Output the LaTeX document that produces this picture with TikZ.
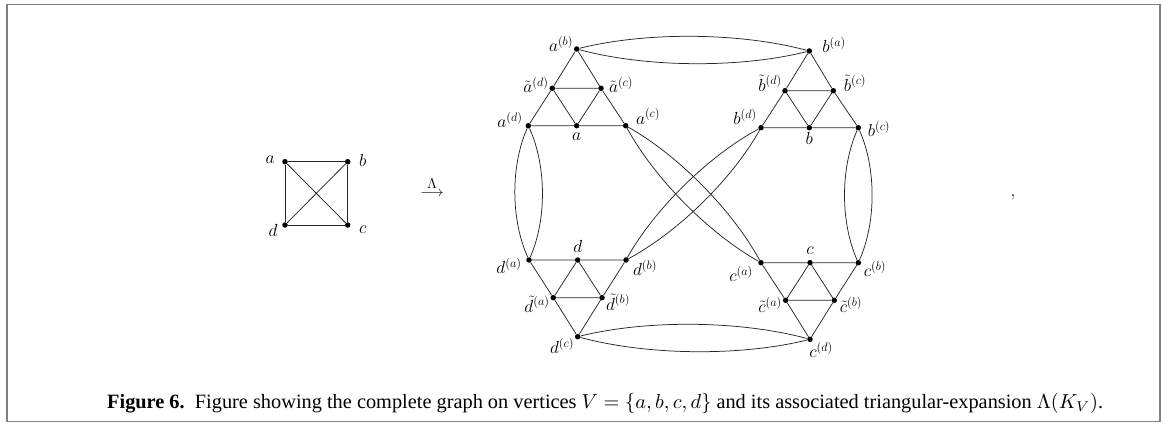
\RequirePackage{fix-cm}
\documentclass[tikz,border=0pt]{standalone}
\usepackage{fontspec}
\usepackage{amsmath}
\setmainfont{Liberation Serif}
\usetikzlibrary{calc}
\tikzset{
  vtx/.style={circle,fill=black,inner sep=0pt,minimum size=5.5pt},
  lbl/.style={inner sep=0pt,font=\fontsize{17.5}{20}\selectfont},
  edge/.style={line width=0.75pt,black!85},
  frame/.style={draw=black!50,line width=1.8pt}
}
\newcommand{\lensdraw}[3][18pt]{%
  \draw[edge] (#2) .. controls ($(#2)!0.3!(#3)!#1!90:(#3)$) and ($(#3)!0.3!(#2)!#1!-90:(#2)$) .. (#3);
  \draw[edge] (#2) .. controls ($(#2)!0.3!(#3)!#1!-90:(#3)$) and ($(#3)!0.3!(#2)!#1!90:(#2)$) .. (#3);
}
\begin{document}
\begin{tikzpicture}[x=1pt,y=-1pt]
\useasboundingbox (0,0) rectangle (1165,425);
\draw[frame] (7,4.5) rectangle (1160,421.5);

% small K4
\node[vtx] (sa) at (285,161.7) {};
\node[vtx] (sb) at (347.7,161.7) {};
\node[vtx] (sc) at (347.7,225) {};
\node[vtx] (sd) at (285,225) {};
\draw[edge] (sa)--(sb)--(sc)--(sd)--(sa);
\draw[edge] (sa)--(sc) (sb)--(sd);
\node[lbl] (lsa) at (270,160) {$a$};
\node[lbl] (lsb) at (362.7,160) {$b$};
\node[lbl] (lsc) at (362.7,230) {$c$};
\node[lbl] (lsd) at (273,230) {$d$};

% arrow
\node[inner sep=0pt,anchor=base,font=\fontsize{14.5}{17}\selectfont] (arr) at (432,196.5) {$\overset{\textstyle\Lambda}{\longrightarrow}$};
\node[lbl,anchor=base] (comma) at (1013,196.5) {$,$};

% a triangle
\node[vtx] (ab) at (576.7,49) {};
\node[vtx] (tad) at (552.3,88.3) {};
\node[vtx] (tac) at (601,88.3) {};
\node[vtx] (ad) at (528.3,125.7) {};
\node[vtx] (a) at (576.7,125.7) {};
\node[vtx] (ac) at (625.7,125.7) {};
\draw[edge] (ab)--(tad)--(ad)--(a)--(ac)--(tac)--(ab);
\draw[edge] (tad)--(tac) (tad)--(a)--(tac);

% b triangle
\node[vtx] (ba) at (809.3,51) {};
\node[vtx] (tbd) at (785,90.7) {};
\node[vtx] (tbc) at (833.3,90.7) {};
\node[vtx] (bd) at (761,127.7) {};
\node[vtx] (b) at (809.3,127.7) {};
\node[vtx] (bc) at (858.3,127.7) {};
\draw[edge] (ba)--(tbd)--(bd)--(b)--(bc)--(tbc)--(ba);
\draw[edge] (tbd)--(tbc) (tbd)--(b)--(tbc);

% d triangle
\node[vtx] (da) at (529,260) {};
\node[vtx] (d) at (577.7,260) {};
\node[vtx] (db) at (626,260) {};
\node[vtx] (tda) at (553.3,297.7) {};
\node[vtx] (tdb) at (602,297.7) {};
\node[vtx] (dc) at (577.7,336.7) {};
\draw[edge] (da)--(d)--(db)--(tdb)--(dc)--(tda)--(da);
\draw[edge] (tda)--(tdb) (tda)--(d)--(tdb);

% c triangle
\node[vtx] (ca) at (761,262.7) {};
\node[vtx] (c) at (810,262.7) {};
\node[vtx] (cb) at (858.3,262.7) {};
\node[vtx] (tca) at (785.7,300.3) {};
\node[vtx] (tcb) at (834.3,300.3) {};
\node[vtx] (cd) at (810,339.3) {};
\draw[edge] (ca)--(c)--(cb)--(tcb)--(cd)--(tca)--(ca);
\draw[edge] (tca)--(tcb) (tca)--(c)--(tcb);

% lenses
\lensdraw{ab}{ba}
\lensdraw{dc}{cd}
\lensdraw{ad}{da}
\lensdraw{bc}{cb}
\lensdraw[16.5pt]{ac}{ca}
\lensdraw[16.5pt]{bd}{db}

% labels
\node[lbl] (lab) at (561,44) {$a^{(b)}$};
\node[lbl] (ltad) at (536,85) {$\tilde{a}^{(d)}$};
\node[lbl] (ltac) at (621,85) {$\tilde{a}^{(c)}$};
\node[lbl] (lad) at (510,120) {$a^{(d)}$};
\node[lbl] (la) at (576.7,137) {$a$};
\node[lbl] (lac) at (648,116.5) {$a^{(c)}$};

\node[lbl] (lba) at (834,45) {$b^{(a)}$};
\node[lbl] (ltbd) at (770,83) {$\tilde{b}^{(d)}$};
\node[lbl] (ltbc) at (855,83) {$\tilde{b}^{(c)}$};
\node[lbl] (lbd) at (745,117) {$b^{(d)}$};
\node[lbl] (lb) at (809.3,138.3) {$b$};
\node[lbl] (lbc) at (879,129) {$b^{(c)}$};

\node[lbl] (lda) at (509,266) {$d^{(a)}$};
\node[lbl] (ld) at (577.7,246) {$d$};
\node[lbl] (ldb) at (645,268) {$d^{(b)}$};
\node[lbl] (ltda) at (537,304) {$\tilde{d}^{(a)}$};
\node[lbl] (ltdb) at (618,302) {$\tilde{d}^{(b)}$};
\node[lbl] (ldc) at (562,346) {$d^{(c)}$};

\node[lbl] (lca) at (741,274) {$c^{(a)}$};
\node[lbl] (lc) at (810,251) {$c$};
\node[lbl] (lcb) at (875,269) {$c^{(b)}$};
\node[lbl] (ltca) at (770,305) {$\tilde{c}^{(a)}$};
\node[lbl] (ltcb) at (851,305) {$\tilde{c}^{(b)}$};
\node[lbl] (lcd) at (821,350) {$c^{(d)}$};

% caption
\node[inner sep=0pt,anchor=base west] (cap) at (107,408) {\resizebox{996pt}{!}{\textbf{Figure 6.}\enspace Figure showing the complete graph on vertices $V=\{a,b,c,d\}$ and its associated triangular-expansion $\Lambda(K_V)$.}};
\end{tikzpicture}
\end{document}
